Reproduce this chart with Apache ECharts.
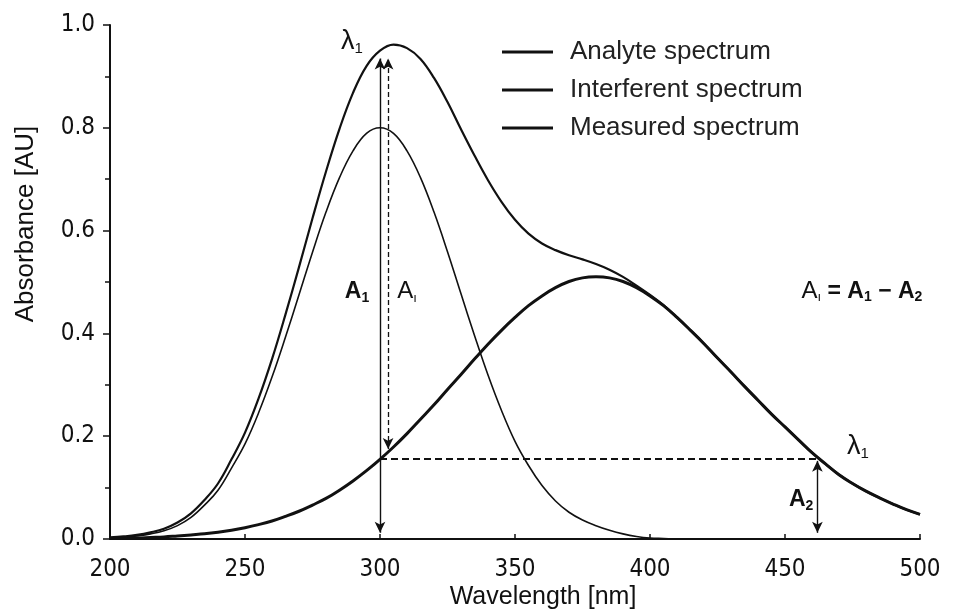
<!DOCTYPE html>
<html>
<head>
<meta charset="utf-8">
<script src="https://cdn.jsdelivr.net/npm/echarts@6/dist/echarts.min.js"></script>
<style>html,body{margin:0;padding:0;background:#fff}#c{width:963px;height:612px}</style>
</head>
<body>
<div id="c"></div>
<script>
const wavelength = [200,205,210,215,220,225,230,235,240,245,250,255,260,265,270,275,280,285,290,295,300,305,310,315,320,325,330,335,340,345,350,355,360,365,370,375,380,385,390,395,400,405,410,415,420,425,430,435,440,445,450,455,460,465,470,475,480,485,490,495,500];
const analyte = [0.002,0.003,0.006,0.010,0.016,0.026,0.042,0.066,0.095,0.138,0.185,0.245,0.315,0.393,0.475,0.558,0.636,0.703,0.755,0.789,0.800,0.789,0.755,0.703,0.636,0.559,0.477,0.396,0.319,0.250,0.190,0.143,0.104,0.074,0.052,0.037,0.026,0.017,0.010,0.005,0.002,0.001,0,0,0,0,0,0,0,0,0,0,0,0,0,0,0,0,0,0,0];
const interferent = [0.001,0.002,0.002,0.003,0.004,0.006,0.008,0.010,0.013,0.017,0.022,0.028,0.035,0.044,0.054,0.066,0.079,0.095,0.113,0.133,0.155,0.179,0.205,0.233,0.261,0.291,0.320,0.350,0.379,0.406,0.431,0.454,0.473,0.489,0.501,0.508,0.510,0.508,0.501,0.489,0.473,0.454,0.431,0.406,0.380,0.352,0.325,0.297,0.270,0.243,0.218,0.193,0.168,0.146,0.125,0.108,0.093,0.080,0.068,0.057,0.048];
const measured = [0.003,0.005,0.008,0.013,0.020,0.032,0.050,0.076,0.108,0.155,0.207,0.273,0.350,0.437,0.529,0.624,0.715,0.798,0.868,0.920,0.950,0.962,0.955,0.934,0.897,0.850,0.797,0.746,0.698,0.656,0.621,0.594,0.575,0.562,0.552,0.544,0.535,0.524,0.510,0.493,0.475,0.455,0.431,0.406,0.380,0.352,0.325,0.297,0.270,0.243,0.218,0.193,0.168,0.146,0.125,0.108,0.093,0.080,0.068,0.057,0.048];
const seriesNames = ['Analyte spectrum','Interferent spectrum','Measured spectrum'];
const xTicks = [200,250,300,350,400,450,500];
const yTicks = [0.0,0.2,0.4,0.6,0.8,1.0];
// annotation values (data units)
const lambda1 = 300, lambda1b = 303, lambda1Right = 462;
const a1Top = 0.935, a2Level = 0.157, dashedLow = 0.175;

const chart = echarts.init(document.getElementById('c'), null, {renderer:'canvas'});
const pairs = arr => wavelength.map((w,i)=>[w, arr[i]]);
const FONT = 'Liberation Sans';
const COND = '"DejaVu Sans Condensed", "Liberation Sans Narrow", "Liberation Sans", sans-serif';
const rich = {
  b:{fontFamily:FONT,fontWeight:'bold',fontSize:23,color:'#111',lineHeight:26},
  n:{fontFamily:FONT,fontSize:24,color:'#111',lineHeight:26},
  l:{fontFamily:FONT,fontSize:27,color:'#111',lineHeight:28},
  s:{fontFamily:FONT,fontWeight:'bold',fontSize:14,color:'#111',verticalAlign:'bottom',lineHeight:26,padding:[10,0,0,0]},
  sn:{fontFamily:FONT,fontSize:13,color:'#111',verticalAlign:'bottom',lineHeight:26,padding:[10,0,0,0]},
  sl:{fontFamily:FONT,fontSize:15,color:'#111',verticalAlign:'bottom',lineHeight:28,padding:[12,0,0,0]}
};
function mp(x,y,txt){
  return {coord:[x,y], symbol:'circle', symbolSize:1, itemStyle:{color:'rgba(0,0,0,0)'},
    label:{show:true, position:'inside', formatter:txt, rich:rich}};
}
const arrowLine = {color:'#111', width:1.4, type:'solid'};
chart.setOption({
  animation:false,
  backgroundColor:'#fff',
  grid:{left:110,right:43,top:25,bottom:73},
  legend:{
    data:seriesNames, orient:'vertical', left:497, top:34, icon:'rect',
    itemWidth:51, itemHeight:3, itemGap:12,
    textStyle:{fontFamily:FONT,fontSize:26,color:'#222',lineHeight:26,padding:[0,0,0,12]}
  },
  xAxis:{
    type:'value', min:200, max:500, interval:50,
    axisLine:{lineStyle:{color:'#111',width:2}},
    axisTick:{inside:true,length:5,lineStyle:{color:'#111',width:1.5}},
    splitLine:{show:false},
    axisLabel:{margin:19,fontFamily:COND,fontSize:24,color:'#111',
      formatter:v=>xTicks.includes(v)?String(v):''}
  },
  yAxis:{
    type:'value', min:0, max:1, interval:0.2,
    axisLine:{show:true,lineStyle:{color:'#111',width:2}},
    axisTick:{show:true,length:7,lineStyle:{color:'#111',width:1.5}},
    minorTick:{show:true,splitNumber:2,length:5,lineStyle:{color:'#111',width:1.5}},
    splitLine:{show:false},
    axisLabel:{margin:15,fontFamily:COND,fontSize:24,color:'#111',
      formatter:v=>{const t=yTicks.find(k=>Math.abs(k-v)<1e-6);return t===undefined?'':t.toFixed(1);}}
  },
  graphic:[
    {type:'text', x:26, y:224, rotation:Math.PI/2,
      style:{text:'Absorbance [AU]', fontFamily:FONT, fontSize:26, fill:'#111', textAlign:'center', textVerticalAlign:'middle'}},
    {type:'text', x:543, y:597,
      style:{text:'Wavelength [nm]', fontFamily:FONT, fontSize:25, fill:'#111', textAlign:'center', textVerticalAlign:'middle'}}
  ],
  series:[
    {name:seriesNames[0], type:'line', data:pairs(analyte), smooth:0.4, showSymbol:false, color:'#111',
      lineStyle:{color:'#111',width:1.6}, z:3,
      markLine:{silent:true, symbol:['arrow','arrow'], symbolSize:[8,11], label:{show:false},
        lineStyle:arrowLine,
        data:[
          [{coord:[lambda1,0.012]},{coord:[lambda1,a1Top]}],
          [{coord:[lambda1b,dashedLow],lineStyle:{type:[5,3],width:1.3,color:'#111'}},{coord:[lambda1b,a1Top]}],
          [{coord:[lambda1Right,0.012]},{coord:[lambda1Right,a2Level-0.005]}],
          [{coord:[lambda1,a2Level],symbol:'none',lineStyle:{type:[7,4],width:1.8,color:'#111'}},{coord:[lambda1Right,a2Level],symbol:'none'}]
        ]},
      markPoint:{silent:true, data:[
        mp(289.6,0.967,'{l|λ}{sl|1}'),
        mp(291.5,0.481,'{b|A}{s|1}'),
        mp(310,0.481,'{n|A}{sn|ı}'),
        mp(478.5,0.482,'{n|A}{sn|ı}{b| = A}{s|1}{b| − A}{s|2}'),
        mp(477,0.179,'{l|λ}{sl|1}'),
        mp(456,0.076,'{b|A}{s|2}')
      ]}
    },
    {name:seriesNames[1], type:'line', data:pairs(interferent), smooth:0.4, showSymbol:false, color:'#111',
      lineStyle:{color:'#111',width:3}, z:4},
    {name:seriesNames[2], type:'line', data:pairs(measured), smooth:0.4, showSymbol:false, color:'#111',
      lineStyle:{color:'#111',width:2.2}, z:5}
  ]
});
</script>
</body>
</html>
